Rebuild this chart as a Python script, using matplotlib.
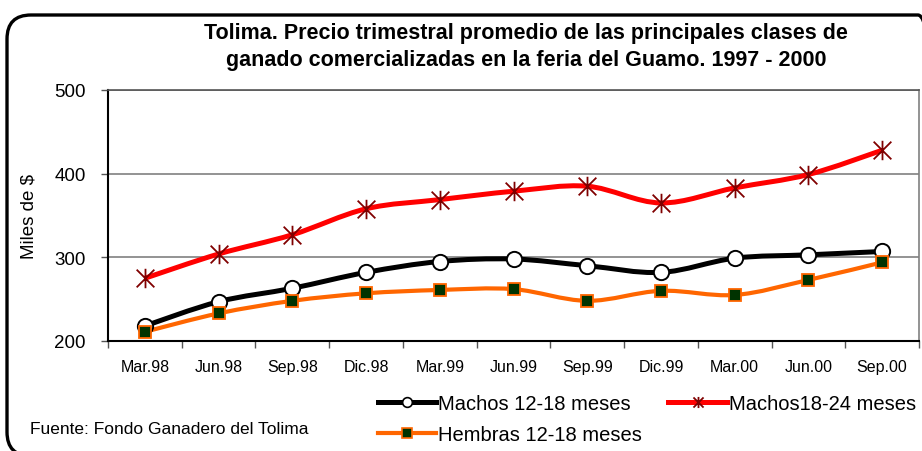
import numpy as np
import matplotlib
matplotlib.use("Agg")
import matplotlib.pyplot as plt
from matplotlib.path import Path
from matplotlib.patches import PathPatch, FancyBboxPatch
from matplotlib.lines import Line2D
from matplotlib.transforms import IdentityTransform

plt.rcParams['font.family'] = ['Liberation Sans', 'DejaVu Sans']

# quarterly average prices (thousands of pesos)
periodos = ['Mar.98', 'Jun.98', 'Sep.98', 'Dic.98', 'Mar.99', 'Jun.99',
            'Sep.99', 'Dic.99', 'Mar.00', 'Jun.00', 'Sep.00']
machos_12_18 = [218, 247, 263, 282, 295, 298, 290, 282, 299, 303, 307]
machos_18_24 = [275, 304, 327, 358, 369, 379, 385, 365, 383, 399, 428]
hembras_12_18 = [211, 233, 248, 257, 261, 262, 248, 260, 255, 273, 294]


def smooth_path(x, y):
    # Excel-style smoothed line: Catmull-Rom as cubic Bezier segments
    pts = np.column_stack([x, y]).astype(float)
    verts = [pts[0]]
    codes = [Path.MOVETO]
    n = len(pts)
    for i in range(n - 1):
        p0 = pts[i - 1] if i > 0 else pts[i]
        p1 = pts[i]
        p2 = pts[i + 1]
        p3 = pts[i + 2] if i + 2 < n else pts[i + 1]
        c1 = p1 + (p2 - p0) / 6.0
        c2 = p2 - (p3 - p1) / 6.0
        verts += [c1, c2, p2]
        codes += [Path.CURVE4] * 3
    return Path(verts, codes)


# Excel-like asterisk marker: an X plus a vertical bar
asterisco = Path([(-1, -1), (1, 1), (-1, 1), (1, -1), (0, -1.1), (0, 1.1)],
                 [Path.MOVETO, Path.LINETO] * 3)

fig = plt.figure(figsize=(9.22, 4.52), dpi=100)
ax = fig.add_axes([108 / 922, 1 - 342 / 452, 811 / 922, 251 / 452])

# rounded outer frame (pixel coordinates, runs off the right edge)
frame = FancyBboxPatch((7, -5), 935, 452 - 16 + 5,
                       boxstyle="round,pad=0,rounding_size=24",
                       transform=IdentityTransform(), fill=False,
                       edgecolor='black', linewidth=2.4, clip_on=False)
fig.patches.append(frame)

xs = np.arange(len(periodos))

ax.add_patch(PathPatch(smooth_path(xs, machos_18_24), fill=False,
                       edgecolor='#FF0000', linewidth=3.6, zorder=3))
ax.add_patch(PathPatch(smooth_path(xs, machos_12_18), fill=False,
                       edgecolor='black', linewidth=3.6, zorder=3))
ax.add_patch(PathPatch(smooth_path(xs, hembras_12_18), fill=False,
                       edgecolor='#FF6600', linewidth=3.0, zorder=3))

ax.plot(xs, machos_18_24, ls='none', marker=asterisco, ms=14, mew=1.3,
        color='#800000', zorder=4)
ax.plot(xs, machos_12_18, ls='none', marker='o', ms=11, mew=1.4,
        mfc='white', mec='black', zorder=4)
ax.plot(xs, hembras_12_18, ls='none', marker='s', ms=8.5, mew=1.3,
        mfc='#003300', mec='#FF6600', zorder=4)

ax.set_xlim(-0.5, len(periodos) - 0.5)
ax.set_ylim(200, 500)
ax.set_yticks([200, 300, 400, 500])
ax.yaxis.grid(True, color='#808080', linewidth=1.2)
ax.set_axisbelow(True)
ax.tick_params(axis='y', direction='out', length=5, width=1, pad=11,
               labelsize=13.5, color='#555555')

ax.set_xticks(np.arange(-0.5, len(periodos), 1.0))
ax.set_xticklabels([])
ax.tick_params(axis='x', which='major', direction='out', length=5,
               width=1, color='#555555')
ax.set_xticks(xs, minor=True)
ax.set_xticklabels(periodos, minor=True)
ax.tick_params(axis='x', which='minor', length=0, pad=13, labelsize=11.5)

for side in ['left', 'bottom']:
    ax.spines[side].set_color('black')
    ax.spines[side].set_linewidth(1.5)
ax.spines['top'].set_color('#555555')
ax.spines['top'].set_linewidth(1.2)
ax.spines['right'].set_color('#808080')
ax.spines['right'].set_linewidth(1.2)

ax.set_ylabel('Miles de $', fontsize=13.5, labelpad=12)

fig.text(526 / 922, 1 - 47 / 452,
         'Tolima. Precio trimestral promedio de las principales clases de\n'
         'ganado comercializadas en la feria del Guamo. 1997 - 2000',
         ha='center', va='center', fontsize=15.5, fontweight='bold',
         linespacing=1.35)

fig.text(30 / 922, 1 - 430 / 452, 'Fuente: Fondo Ganadero del Tolima',
         ha='left', va='center', fontsize=12.5)

h_m12 = Line2D([], [], color='black', lw=3.6, marker='o', ms=7,
               mfc='white', mec='black', mew=1.2)
h_m18 = Line2D([], [], color='#FF0000', lw=3.6, marker=asterisco, ms=8,
               mec='#800000', mew=1.3)
h_h12 = Line2D([], [], color='#FF6600', lw=3.0, marker='s', ms=7,
               mfc='#003300', mec='#FF6600', mew=1.2)
fig.legend([h_m12, h_h12, h_m18],
           ['Machos 12-18 meses', 'Hembras 12-18 meses', 'Machos18-24 meses'],
           numpoints=1, ncol=2, loc='upper left',
           bbox_to_anchor=(378 / 922, 1 - 395 / 452),
           frameon=False, fontsize=14.5, handlelength=2.9, handletextpad=0.1,
           columnspacing=1.3, labelspacing=0.62, borderaxespad=0,
           borderpad=0)

fig.savefig('out.png', dpi=100)
